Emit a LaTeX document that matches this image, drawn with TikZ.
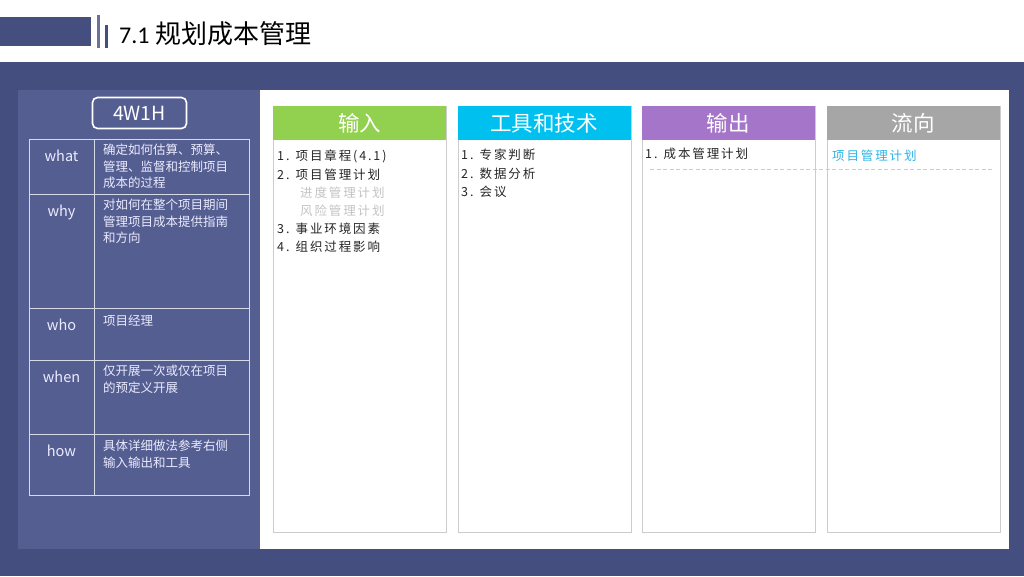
\documentclass[tikz,border=0pt]{standalone}
\usepackage{fontspec}
\setmainfont{Carlito}
\newfontfamily\cjk{Noto Sans CJK SC}
\newfontfamily\kai[LetterSpace=15]{Noto Sans CJK SC}
\definecolor{navy}{HTML}{454F7F}
\definecolor{panel}{HTML}{545E90}
\definecolor{tline}{HTML}{D6D9E6}
\definecolor{cgreen}{HTML}{92D050}
\definecolor{ccyan}{HTML}{00C0EF}
\definecolor{cpurple}{HTML}{A475C8}
\definecolor{cgray}{HTML}{A6A6A6}
\definecolor{bord}{HTML}{CCCCCC}
\definecolor{flow}{HTML}{2FB4E6}
\definecolor{subgray}{HTML}{C4C4C4}
\tikzset{
  colbox/.style={draw=bord, line width=0.8pt, fill=white, anchor=north west, minimum width=173pt, minimum height=426pt, inner sep=0pt},
  colhead/.style={anchor=north west, minimum width=173pt, minimum height=34pt, inner sep=0pt, text=white, font=\cjk\fontsize{21.5}{21.5}\selectfont},
  item/.style={anchor=west, inner sep=0pt, font=\kai\fontsize{12.5}{12.5}\selectfont, text=black!85},
  subitem/.style={item, text=subgray},
  rowlabel/.style={anchor=center, inner sep=0pt, text=white!92!blue, font=\cjk\fontsize{14.5}{14.5}\selectfont},
  rowtext/.style={anchor=west, inner sep=0pt, text=white!92!blue, font=\cjk\fontsize{12.5}{12.5}\selectfont},
  tl/.style={draw=tline, line width=0.9pt}
}
\begin{document}
\begin{tikzpicture}[x=1pt,y=-1pt]
\useasboundingbox (0,0) rectangle (1024,576);
\fill[white] (0,0) rectangle (1024,576);
% title bar
\fill[navy] (0,17) rectangle (91,46);
\fill[navy!80] (97,15) rectangle (100,48);
\fill[navy] (105,25) rectangle (108,48);
\node[anchor=west, inner sep=0pt] (title) at (119,34) {\fontsize{24}{24}\selectfont 7.1\hspace{6pt}{\cjk\fontsize{26}{26}\selectfont 规划成本管理}};
% band
\fill[navy] (0,62) rectangle (1024,576);
\fill[panel] (18,90) rectangle (260,549);
\fill[white] (260,90) rectangle (1009,549);
% 4W1H
\node[draw=white, line width=1.6pt, rounded corners=5pt, minimum width=94pt, minimum height=31pt, inner sep=0pt, text=white, font=\cjk\fontsize{19.5}{19.5}\selectfont] (w) at (139.5,113) {4W1H};
% table
\draw[tl] (29,139) rectangle (249,495);
\draw[tl] (94,139) -- (94,495);
\foreach \yy in {194,308,360,434} {\draw[tl] (29,\yy) -- (249,\yy);}
\node[rowlabel] (lwhat) at (61.5,156) {what};
\node[rowlabel] (lwhy) at (61.5,212) {why};
\node[rowlabel] (lwho) at (61.5,325) {who};
\node[rowlabel] (lwhen) at (61.5,377) {when};
\node[rowlabel] (lhow) at (61.5,451) {how};
\node[rowtext] (t1a) at (103,150) {确定如何估算、预算、};
\node[rowtext] (t1b) at (103,166.5) {管理、监督和控制项目};
\node[rowtext] (t1c) at (103,183) {成本的过程};
\node[rowtext] (t2a) at (103,205) {对如何在整个项目期间};
\node[rowtext] (t2b) at (103,221.5) {管理项目成本提供指南};
\node[rowtext] (t2c) at (103,238) {和方向};
\node[rowtext] (t3a) at (103,321) {项目经理};
\node[rowtext] (t4a) at (103,371) {仅开展一次或仅在项目};
\node[rowtext] (t4b) at (103,387.5) {的预定义开展};
\node[rowtext] (t5a) at (103,446) {具体详细做法参考右侧};
\node[rowtext] (t5b) at (103,462.5) {输入输出和工具};
% columns
\node[colbox] (c1) at (273,106) {};
\node[colbox] (c2) at (457.5,106) {};
\node[colbox] (c3) at (641.5,106) {};
\node[colbox] (c4) at (826.5,106) {};
\node[colhead, fill=cgreen] (h1) at (273,106) {输入};
\node[colhead, fill=ccyan] (h2) at (457.5,106) {工具和技术};
\node[colhead, fill=cpurple] (h3) at (641.5,106) {输出};
\node[colhead, fill=cgray] (h4) at (826.5,106) {流向};
% input items
\node[item] (i1) at (277,156) {1. 项目章程(4.1)};
\node[item] (i2) at (277,174.5) {2. 项目管理计划};
\node[subitem] (i2a) at (300,192.5) {进度管理计划};
\node[subitem] (i2b) at (300,210.5) {风险管理计划};
\node[item] (i3) at (277,228.5) {3. 事业环境因素};
\node[item] (i4) at (277,247) {4. 组织过程影响};
% tools
\node[item] (k1) at (461,155) {1. 专家判断};
\node[item] (k2) at (461,173.5) {2. 数据分析};
\node[item] (k3) at (461,191.5) {3. 会议};
% output
\node[item] (o1) at (645,154) {1. 成本管理计划};
% flow
\node[item, text=flow] (f1) at (832,156) {项目管理计划};
\coordinate (dA) at (650,169.5);
\coordinate (dB) at (992,169.5);
\draw[bord, dashed, line width=0.7pt, dash pattern=on 4pt off 2.5pt] (dA) -- (dB);
\end{tikzpicture}
\end{document}
